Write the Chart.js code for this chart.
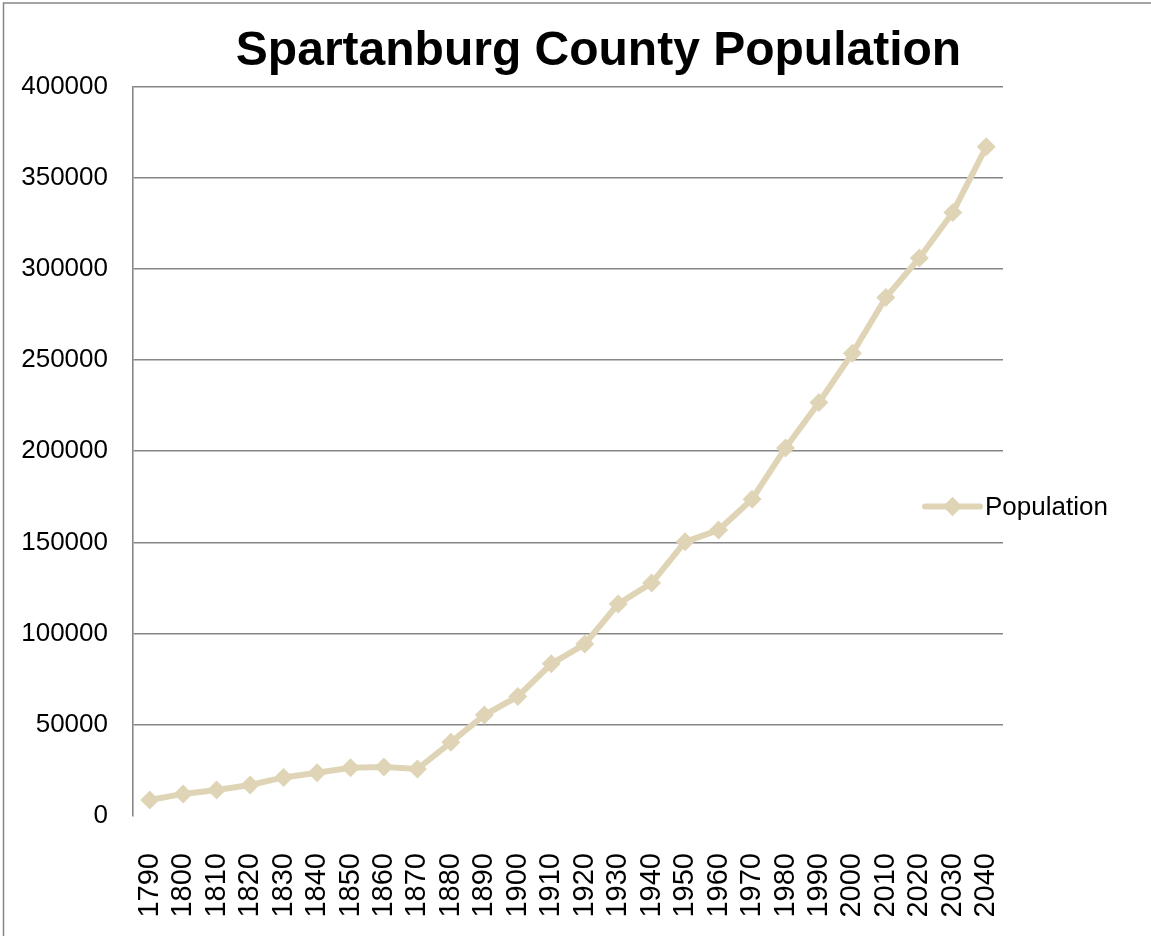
<!DOCTYPE html>
<html>
<head>
<meta charset="utf-8">
<script src="https://cdn.jsdelivr.net/npm/chart.js@4.4.0/dist/chart.umd.min.js"></script>
<style>
  html, body { margin: 0; padding: 0; background: #fff; }
  #wrap { width: 1151px; height: 936px; }
</style>
</head>
<body>
<div id="wrap"><canvas id="pop-chart" width="1151" height="936"></canvas></div>
<script>
// census years + projections
const years = ['1790','1800','1810','1820','1830','1840','1850','1860','1870','1880',
               '1890','1900','1910','1920','1930','1940','1950','1960','1970','1980',
               '1990','2000','2010','2020','2030','2040'];
const population = [8800, 12122, 14259, 16989, 21150, 23669, 26400, 26919, 25784, 40409,
                    55385, 65560, 83465, 94265, 116323, 127733, 150349, 156830, 173724, 201861,
                    226800, 253791, 284307, 306000, 331000, 367000];
const seriesName = 'Population';
const chartTitle = 'Spartanburg County Population';

const LINE = '#dfd5b6';
const GRID = '#868686';
const FONT = "'Liberation Sans', Arial, sans-serif";

/* frame round the whole chart (only left/top edges are in view) */
const framePlugin = {
    id: 'frame',
    beforeDraw(chart) {
        const ctx = chart.ctx;
        ctx.save();
        ctx.strokeStyle = GRID;
        ctx.lineWidth = 1.5;
        ctx.strokeRect(3.5, 3, chart.width + 20, chart.height + 20);
        ctx.restore();
    }
};

/* Excel style legend sitting over the right end of the plot */
const sideLegend = {
    id: 'sideLegend',
    afterDraw(chart) {
        const ds = chart.data.datasets[0];
        const ctx = chart.ctx;
        const area = chart.chartArea;
        const x0 = area.right - 78, x1 = area.right - 23;
        const y = area.top + 420;
        ctx.save();
        ctx.strokeStyle = ds.borderColor;
        ctx.lineWidth = ds.borderWidth;
        ctx.lineCap = 'round';
        ctx.beginPath();
        ctx.moveTo(x0, y);
        ctx.lineTo(x1, y);
        ctx.stroke();
        Chart.helpers.drawPoint(ctx, {
            pointStyle: ds.pointStyle,
            radius: ds.pointRadius,
            borderWidth: 0
        }, (x0 + x1) / 2, y);
        ctx.fillStyle = ds.pointBackgroundColor;
        ctx.fill();
        ctx.fillStyle = '#000';
        ctx.font = '26px ' + FONT;
        ctx.textBaseline = 'middle';
        ctx.textAlign = 'left';
        ctx.fillText(ds.label, x1 + 5, y + 1);
        ctx.restore();
    }
};

new Chart(document.getElementById('pop-chart').getContext('2d'), {
    type: 'line',
    data: {
        labels: years,
        datasets: [{
            label: seriesName,
            data: population,
            borderColor: LINE,
            borderWidth: 6,
            backgroundColor: LINE,
            pointStyle: 'rectRot',
            pointRadius: 9.5,
            pointBorderWidth: 0,
            pointBackgroundColor: LINE,
            tension: 0,
            clip: false
        }]
    },
    options: {
        responsive: false,
        animation: false,
        // negative right padding pushes the title centre right, like the Excel original
        layout: { padding: { left: 0, right: -46, top: 0, bottom: 0 } },
        plugins: {
            legend: { display: false },
            tooltip: { enabled: false },
            title: {
                display: true,
                text: chartTitle,
                color: '#000',
                font: { family: FONT, size: 48, weight: 'bold' },
                padding: { top: 23, bottom: 6 }
            }
        },
        scales: {
            x: {
                offset: true,
                grid: { display: false, drawTicks: false },
                border: { display: false },
                ticks: {
                    color: '#000',
                    font: { family: FONT, size: 29 },
                    minRotation: 90,
                    maxRotation: 90,
                    autoSkip: false,
                    padding: 37
                },
                afterFit(scale) { scale.height = 120; }
            },
            y: {
                min: 0,
                max: 400000,
                grid: {
                    color: ctx => ctx.tick && ctx.tick.value === 0 ? 'rgba(0,0,0,0)' : GRID,
                    lineWidth: 1.6,
                    drawTicks: false
                },
                border: { display: true, color: GRID, width: 1.6 },
                ticks: {
                    stepSize: 50000,
                    color: '#000',
                    font: { family: FONT, size: 26 },
                    padding: 25,
                    callback: v => String(v)
                },
                afterFit(scale) { scale.width = 133; }
            },
            // empty right-hand strip so the plot stops where the legend begins
            spacer: {
                type: 'linear',
                position: 'right',
                display: true,
                grid: { display: false, drawTicks: false },
                border: { display: false },
                ticks: { display: false },
                afterFit(scale) { scale.width = 194; }
            }
        }
    },
    plugins: [framePlugin, sideLegend]
});
</script>
</body>
</html>
